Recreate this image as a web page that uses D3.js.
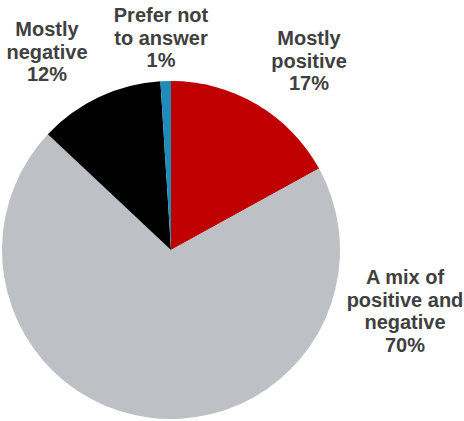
<!DOCTYPE html>
<html>
<head>
<meta charset="utf-8">
<script src="https://cdn.jsdelivr.net/npm/d3@7"></script>
<style>
  html, body { margin: 0; padding: 0; background: #fff; }
  svg { display: block; }
</style>
</head>
<body>
<svg id="chart" width="464" height="421"></svg>
<script>
const categories = ["Mostly positive", "A mix of positive and negative", "Mostly negative", "Prefer not to answer"];
const values = [17, 70, 12, 1];
const labelLines = [
  ["Mostly", "positive", "17%"],
  ["A mix of", "positive and", "negative", "70%"],
  ["Mostly", "negative", "12%"],
  ["Prefer not", "to answer", "1%"]
];
const colors = ["#C00000", "#BDC1C5", "#000000", "#1E8BB8"];

// layout (not data)
const cx = 171, cy = 250, R = 169;
const labelPos = [[309, 45], [405, 284], [47, 36], [161, 22]];
const lineH = 22.5;

const svg = d3.select("#chart");
const pie = d3.pie().sort(null).value(d => d)(values);
const arc = d3.arc().innerRadius(0).outerRadius(R);

svg.append("g").attr("transform", `translate(${cx},${cy})`)
  .selectAll("path").data(pie).join("path")
  .attr("d", arc)
  .attr("fill", (d, i) => colors[i]);

const lab = svg.append("g")
  .attr("font-family", "'Liberation Sans', Arial, sans-serif")
  .attr("font-weight", "bold")
  .attr("font-size", 20)
  .attr("fill", "#404040")
  .attr("text-anchor", "middle");

categories.forEach((c, i) => {
  const t = lab.append("text").attr("x", labelPos[i][0]).attr("y", labelPos[i][1]);
  labelLines[i].forEach((ln, j) => {
    t.append("tspan").attr("x", labelPos[i][0]).attr("y", labelPos[i][1] + j * lineH).text(ln);
  });
});
</script>
</body>
</html>
